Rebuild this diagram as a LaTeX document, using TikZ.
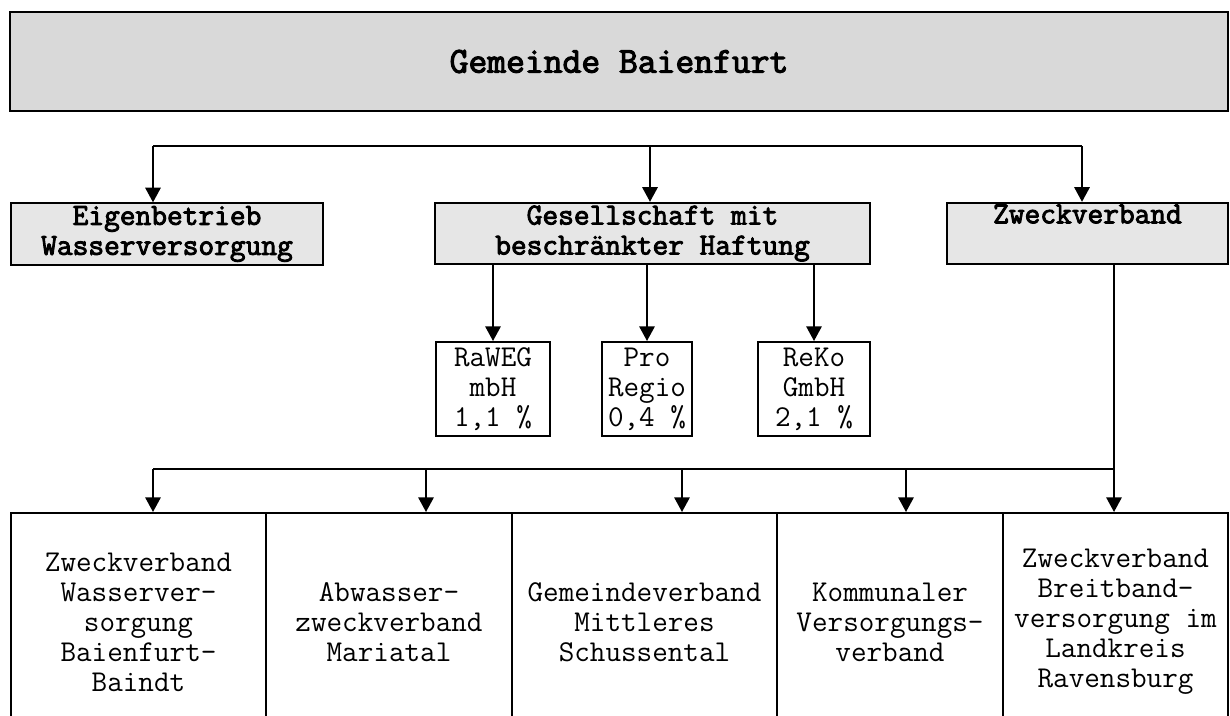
\documentclass[tikz,border=0pt]{standalone}
\usepackage{fontspec}
\newfontfamily\boldmono{Latin Modern Mono}[FakeBold=3]
\usepackage{tikz}
\usetikzlibrary{arrows.meta, positioning, calc}
\definecolor{headgray}{RGB}{217,217,217}
\definecolor{levelgray}{RGB}{230,230,230}

\begin{document}
\begin{tikzpicture}[
    x=0.75pt, y=-0.75pt,
    box/.style={rectangle, draw, line width=1.5pt, inner sep=0pt, align=center, font=\ttfamily\fontsize{22.7pt}{22.5pt}\selectfont},
    head/.style={box, fill=headgray, font=\boldmono\fontsize{27.4pt}{28pt}\selectfont},
    level/.style={box, fill=levelgray, font=\boldmono\fontsize{22.9pt}{22.5pt}\selectfont, minimum height=46pt},
    share/.style={box, minimum height=70.5pt},
    member/.style={box, minimum height=163.5pt},
    line/.style={line width=1.5pt},
    arrow/.style={line width=1.5pt, -{Triangle[width=11.5pt, length=11pt]}}
]
    \useasboundingbox (0,0) rectangle (1230,715);
    \clip (0,0) rectangle (1230,715);

    \node [head, minimum width=913.5pt, minimum height=74.25pt] (gemeinde) at (619, 61.5) {Gemeinde Baienfurt};

    \node [level, minimum width=234pt] (eigen) at (167, 234) {Eigenbetrieb\\Wasserversorgung};
    \node [level, minimum width=326.25pt] (gmbh) at (652.5, 233.5) {Gesellschaft mit\\beschränkter Haftung};
    \node [level, minimum width=210.75pt] (zweck) at (1087.5, 233.5) {Zweckverband\\\strut};

    \node [share, minimum width=85.5pt] (raweg) at (493, 389) {RaWEG\\mbH\\1,1 \%};
    \node [share, minimum width=67.5pt] (proregio) at (647, 389) {Pro\\Regio\\0,4 \%};
    \node [share, minimum width=84pt] (reko) at (814, 389) {ReKo\\GmbH\\2,1 \%};

    \node [member, minimum width=191.25pt] (wvbb) at (138.5, 622) {Zweckverband\\Wasserver-\\sorgung\\Baienfurt-\\Baindt};
    \node [member, minimum width=184.5pt] (mariatal) at (389, 622) {Abwasser-\\zweckverband\\Mariatal};
    \node [member, minimum width=198.75pt] (schussental) at (644.5, 622) {Gemeindeverband\\Mittleres\\Schussental};
    \node [member, minimum width=169.5pt] (kommunal) at (890, 622) {Kommunaler\\Versorgungs-\\verband};
    \node [member, minimum width=168.75pt] (breitband) at (1115.5, 622) {Zweckverband\\Breitband-\\versorgung im\\Landkreis\\Ravensburg};

    \coordinate (topL) at (153, 146);
    \coordinate (topM) at (650, 146);
    \coordinate (topR) at (1082, 146);
    \coordinate (busL) at (153, 469);
    \coordinate (busR) at (1114, 469);

    \draw [line] (topL) -- (topR);
    \draw [arrow] (topL) -- (topL |- eigen.north);
    \draw [arrow] (topM) -- (topM |- gmbh.north);
    \draw [arrow] (topR) -- (topR |- zweck.north);

    \draw [arrow] (raweg.north |- gmbh.south) -- (raweg.north);
    \draw [arrow] (proregio.north |- gmbh.south) -- (proregio.north);
    \draw [arrow] (reko.north |- gmbh.south) -- (reko.north);

    \draw [line] (busL) -- (busR);
    \draw [arrow] (busR |- zweck.south) -- (busR |- breitband.north);
    \foreach \x/\target in {153/wvbb, 426/mariatal, 682/schussental, 906/kommunal}
        \draw [arrow] (\x, 469) -- (\x, 469 |- \target.north);
\end{tikzpicture}
\end{document}
